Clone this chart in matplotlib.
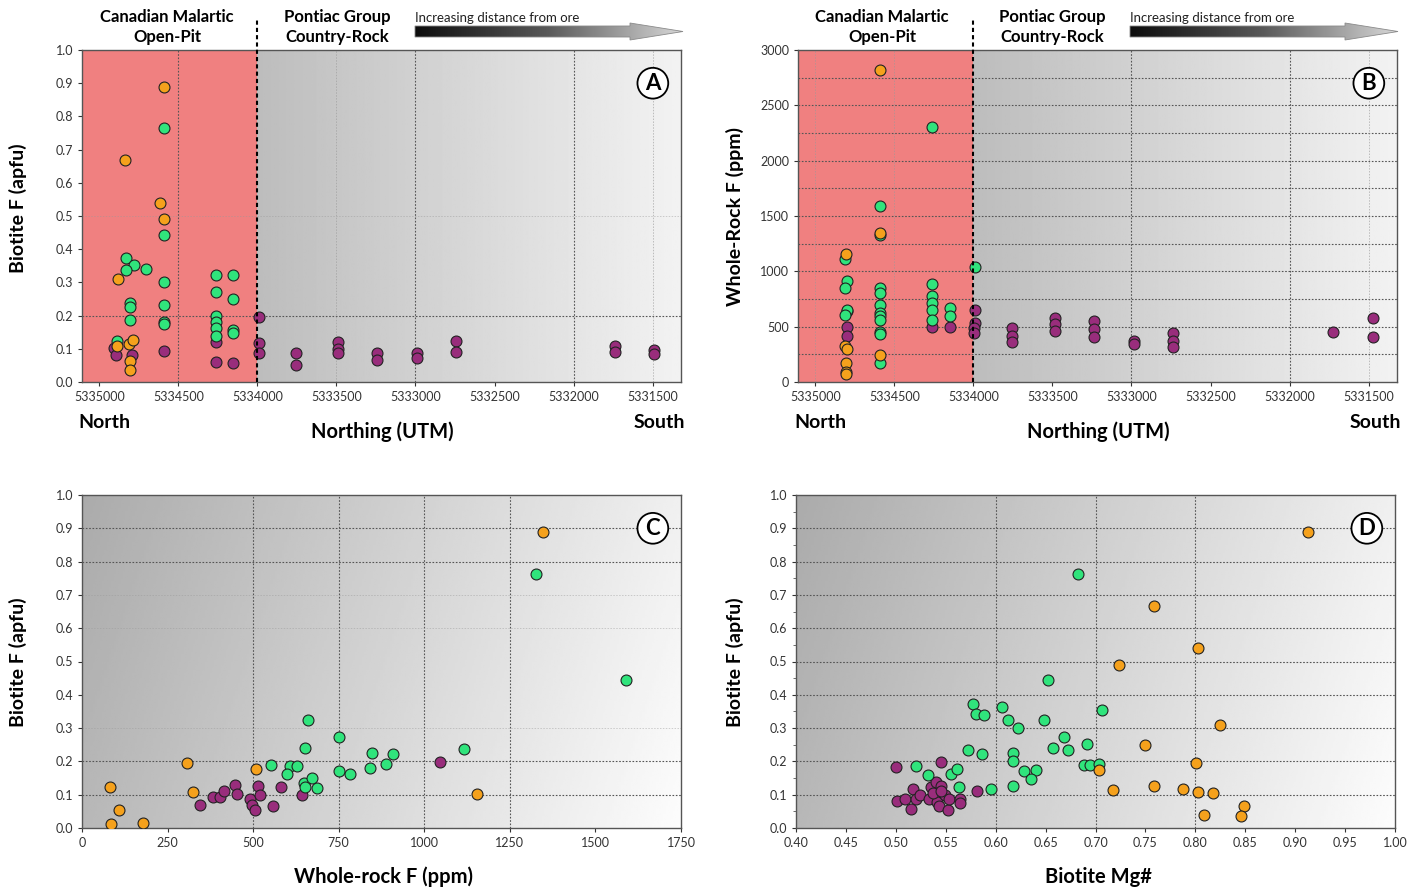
import numpy as np
import matplotlib
matplotlib.use("Agg")
from matplotlib import pyplot as plt
from matplotlib.patches import Polygon
from matplotlib.colors import LinearSegmentedColormap
from matplotlib.ticker import FuncFormatter, MultipleLocator

plt.rcParams['font.family'] = ['Lato', 'DejaVu Sans']

W, H = 1421, 888
ORANGE = '#F5A11C'
GREEN = '#30E47C'
PURPLE = '#992D7C'

# ---- biotite F vs northing (A) ----
orange_a_n = [5334840, 5334618, 5334589, 5334589, 5334882, 5334888, 5334815, 5334789, 5334808, 5334808]
orange_a_f = [0.669, 0.540, 0.889, 0.491, 0.309, 0.108, 0.114, 0.127, 0.064, 0.036]
green_a_n = [5334589, 5334589, 5334829, 5334783, 5334829, 5334704, 5334589, 5334261, 5334154, 5334261,
             5334154, 5334808, 5334808, 5334808, 5334589, 5334589, 5334589, 5334261, 5334261, 5334261,
             5334261, 5334154, 5334154, 5334888]
green_a_f = [0.764, 0.443, 0.372, 0.352, 0.337, 0.339, 0.300, 0.322, 0.322, 0.272,
             0.250, 0.237, 0.225, 0.187, 0.233, 0.182, 0.175, 0.199, 0.182, 0.162,
             0.139, 0.158, 0.149, 0.124]
purple_a_n = [5333992, 5334261, 5334261, 5334154, 5334589, 5333990, 5333992, 5334909, 5334893, 5334793,
              5333753, 5333753, 5333489, 5333489, 5333489, 5333242, 5333242, 5332989, 5332989, 5332742,
              5332742, 5331739, 5331739, 5331491, 5331491]
purple_a_f = [0.197, 0.121, 0.061, 0.056, 0.094, 0.117, 0.086, 0.101, 0.081, 0.081,
              0.088, 0.051, 0.121, 0.098, 0.086, 0.088, 0.066, 0.088, 0.071, 0.124,
              0.091, 0.108, 0.089, 0.096, 0.084]

# ---- whole-rock F vs northing (B) ----
orange_b_n = [5334590, 5334590, 5334804, 5334810, 5334800, 5334804, 5334804, 5334804, 5334590]
orange_b_f = [2819, 1349, 1157, 325, 295, 175, 93, 75, 244]
green_b_n = [5334263, 5334590, 5334590, 5334810, 5334800, 5334810, 5333990, 5334800, 5334810, 5334590,
             5334590, 5334590, 5334590, 5334590, 5334590, 5334590, 5334590, 5334590, 5334263, 5334263,
             5334263, 5334263, 5334263, 5334151, 5334151]
green_b_f = [2307, 1590, 1328, 1111, 915, 846, 1042, 650, 605, 846,
             801, 696, 621, 600, 560, 455, 430, 175, 885, 780,
             711, 650, 560, 672, 600]
purple_b_n = [5334800, 5334800, 5334800, 5334263, 5334151, 5333992, 5333992, 5333995, 5333995, 5333753,
              5333753, 5333753, 5333482, 5333482, 5333482, 5333237, 5333237, 5333237, 5332983, 5332983,
              5332739, 5332739, 5332739, 5331724, 5331471, 5331471]
purple_b_f = [645, 494, 416, 500, 500, 650, 536, 485, 445, 485,
              416, 359, 581, 521, 464, 554, 479, 404, 373, 343,
              446, 373, 319, 449, 581, 410]

# ---- biotite F vs whole-rock F (C) ----
orange_c_wr = [1347, 306, 509, 82, 324, 1153, 107, 84, 178]
orange_c_f = [0.890, 0.196, 0.176, 0.122, 0.108, 0.101, 0.053, 0.012, 0.015]
green_c_wr = [1325, 1589, 659, 752, 652, 847, 909, 1115, 553, 609,
              628, 600, 752, 783, 840, 889, 648, 672, 688, 652]
green_c_f = [0.764, 0.445, 0.325, 0.274, 0.241, 0.226, 0.223, 0.236, 0.190, 0.186,
             0.186, 0.161, 0.171, 0.163, 0.179, 0.191, 0.136, 0.151, 0.120, 0.123]
purple_c_wr = [1046, 346, 382, 402, 414, 446, 453, 491, 498, 506, 515, 521, 559, 580, 644]
purple_c_f = [0.198, 0.069, 0.093, 0.093, 0.111, 0.128, 0.101, 0.088, 0.068, 0.053,
              0.125, 0.098, 0.065, 0.122, 0.098]

# ---- biotite F vs biotite Mg# (D) ----
orange_d_mg = [0.913, 0.759, 0.803, 0.724, 0.825, 0.750, 0.801, 0.704, 0.718, 0.759,
               0.788, 0.803, 0.818, 0.809, 0.849, 0.846]
orange_d_f = [0.890, 0.667, 0.541, 0.490, 0.309, 0.248, 0.196, 0.174, 0.113, 0.127,
              0.118, 0.109, 0.105, 0.040, 0.067, 0.037]
green_d_mg = [0.682, 0.652, 0.577, 0.580, 0.588, 0.606, 0.612, 0.622, 0.648, 0.707,
              0.668, 0.657, 0.672, 0.691, 0.572, 0.586, 0.617, 0.617, 0.520, 0.532,
              0.555, 0.561, 0.628, 0.640, 0.635, 0.688, 0.694, 0.704, 0.563, 0.595, 0.617]
green_d_f = [0.764, 0.444, 0.373, 0.341, 0.338, 0.364, 0.323, 0.301, 0.323, 0.354,
             0.273, 0.241, 0.234, 0.252, 0.234, 0.223, 0.226, 0.201, 0.186, 0.160,
             0.163, 0.176, 0.171, 0.174, 0.147, 0.188, 0.188, 0.191, 0.122, 0.117, 0.125]
purple_d_mg = [0.500, 0.545, 0.581, 0.501, 0.509, 0.515, 0.517, 0.520, 0.524, 0.533,
               0.535, 0.540, 0.545, 0.541, 0.543, 0.549, 0.552, 0.553, 0.564, 0.564,
               0.537, 0.545]
purple_d_f = [0.184, 0.198, 0.110, 0.080, 0.088, 0.058, 0.118, 0.088, 0.100, 0.088,
              0.123, 0.137, 0.125, 0.078, 0.065, 0.100, 0.055, 0.088, 0.088, 0.075,
              0.105, 0.110]

NORTH_LIM = (5335110, 5331320)
PIT_EDGE = 5334000


def box(px_left, px_top, px_right, px_bottom):
    return [px_left / W, 1 - px_bottom / H, (px_right - px_left) / W, (px_bottom - px_top) / H]


def scatter_groups(ax, groups):
    for x, y, c in groups:
        ax.scatter(x, y, s=62, c=c, edgecolors='#222222', linewidths=0.8, zorder=5)


def grid_lines(ax, xs=(), ys=(), faint_xs=(), faint_ys=()):
    for v in xs:
        ax.axvline(v, color='#555555', ls=(0, (1.5, 1.5)), lw=0.8, zorder=2)
    for v in ys:
        ax.axhline(v, color='#555555', ls=(0, (1.5, 1.5)), lw=0.8, zorder=2)
    for v in faint_xs:
        ax.axvline(v, color='#999999', ls=(0, (1.5, 1.5)), lw=0.7, alpha=0.6, zorder=2)
    for v in faint_ys:
        ax.axhline(v, color='#999999', ls=(0, (1.5, 1.5)), lw=0.7, alpha=0.45, zorder=2)


def style_axes(ax):
    for s in ax.spines.values():
        s.set_color('#555555')
        s.set_linewidth(1.0)
    ax.tick_params(labelsize=9, colors='#333333', length=3, width=0.8)


def circle_label(ax, letter):
    ax.text(0.953, 0.90, letter, transform=ax.transAxes, ha='center', va='center',
            fontsize=16, fontweight='bold', zorder=10,
            bbox=dict(boxstyle='circle,pad=0.22', fc='white', ec='black', lw=1.3))


def northing_panel(ax, ymax, ytick_step, yfmt):
    ax.set_xlim(*NORTH_LIM)
    ax.set_ylim(0, ymax)
    ax.axvspan(NORTH_LIM[0], PIT_EDGE, color='#F08080', zorder=0)
    grad = 0.74 + 0.21 * np.linspace(0, 1, 256)[None, :]
    ax.imshow(grad, extent=[PIT_EDGE, NORTH_LIM[1], 0, ymax], aspect='auto',
              cmap='gray', vmin=0, vmax=1, zorder=0)
    ax.axvline(PIT_EDGE, ymin=0, ymax=1 + 30 / 332, color='black', ls=(0, (2, 1.5)),
               lw=1.5, clip_on=False, zorder=6)
    ax.set_xticks(np.arange(5335000, 5331000, -500))
    ax.xaxis.set_major_formatter(FuncFormatter(lambda v, p: f'{v:.0f}'))
    ax.yaxis.set_major_locator(MultipleLocator(ytick_step))
    ax.yaxis.set_major_formatter(FuncFormatter(yfmt))
    style_axes(ax)


def gray_panel(ax, xlim):
    ax.set_xlim(*xlim)
    ax.set_ylim(0, 1)
    gx = np.linspace(0, 1, 256)[None, :]
    gy = np.linspace(0, 1, 128)[:, None]
    grad = np.clip(0.67 + 0.27 * gx + 0.05 * gy, 0, 1)
    ax.imshow(grad, extent=[xlim[0], xlim[1], 0, 1], aspect='auto',
              cmap='gray', vmin=0, vmax=1, zorder=0)
    ax.yaxis.set_major_locator(MultipleLocator(0.1))
    ax.yaxis.set_major_formatter(FuncFormatter(lambda v, p: f'{v:.1f}'))
    style_axes(ax)


def gradient_arrow(fig, x0, x1, yc):
    ax = fig.add_axes(box(x0 - 2, yc - 12, x1 + 2, yc + 12))
    ax.set_xlim(x0 - 2, x1 + 2)
    ax.set_ylim(yc + 12, yc - 12)
    ax.axis('off')
    head = x1 - 53
    pts = [(x0, yc - 5.5), (head, yc - 5.5), (head, yc - 8.5), (x1, yc),
           (head, yc + 8.5), (head, yc + 5.5), (x0, yc + 5.5)]
    poly = Polygon(pts, closed=True, fc='none', ec='#8a8a8a', lw=0.6, zorder=3)
    ax.add_patch(poly)
    cmap = LinearSegmentedColormap.from_list('fade', ['#0d0d0d', '#5a5a5a', '#d8d8d8'])
    im = ax.imshow(np.linspace(0, 1, 256)[None, :], extent=[x0, x1, yc + 12, yc - 12],
                   cmap=cmap, aspect='auto', zorder=2)
    im.set_clip_path(poly)


def northing_header(fig, x_left, x_pit, x_pontiac, x_arrow):
    fig.text(x_pit / W, 1 - 27 / H, 'Canadian Malartic\nOpen-Pit', ha='center', va='center',
             fontsize=12, fontweight='bold', linespacing=1.25)
    fig.text(x_pontiac / W, 1 - 27 / H, 'Pontiac Group\nCountry-Rock', ha='center', va='center',
             fontsize=12, fontweight='bold', linespacing=1.25)
    fig.text(x_arrow / W, 1 - 18 / H, 'Increasing distance from ore', ha='left', va='center',
             fontsize=9.5, color='#222222')
    gradient_arrow(fig, x_arrow, x_arrow + 268, 31.5)
    fig.text((x_left + 22) / W, 1 - 422 / H, 'North', ha='center', va='center',
             fontsize=14, fontweight='bold')
    fig.text((x_left + 577) / W, 1 - 422 / H, 'South', ha='center', va='center',
             fontsize=14, fontweight='bold')
    fig.text((x_left + 300) / W, 1 - 432 / H, 'Northing (UTM)', ha='center', va='center',
             fontsize=14.5, fontweight='bold')


fig = plt.figure(figsize=(W / 100, H / 100), dpi=100)

# Panel A
ax_a = fig.add_axes(box(82, 50, 681, 382))
northing_panel(ax_a, 1.0, 0.1, lambda v, p: f'{v:.1f}')
grid_lines(ax_a, xs=[5334500, 5333000, 5332000], ys=[0.2], faint_xs=[5333500, 5331500], faint_ys=[0.5])
scatter_groups(ax_a, [(purple_a_n, purple_a_f, PURPLE), (green_a_n, green_a_f, GREEN),
                      (orange_a_n, orange_a_f, ORANGE)])
circle_label(ax_a, 'A')
fig.text(18 / W, 1 - 208 / H, 'Biotite F (apfu)', rotation=90, ha='center', va='center',
         fontsize=14, fontweight='bold')
northing_header(fig, 82, 167, 337, 415)

# Panel B
ax_b = fig.add_axes(box(798, 50, 1397, 382))
northing_panel(ax_b, 3000, 500, lambda v, p: f'{v:.0f}')
grid_lines(ax_b, xs=[5333000, 5332000], ys=np.arange(250, 3000, 250),
           faint_xs=[5335000, 5334500, 5331500])
scatter_groups(ax_b, [(purple_b_n, purple_b_f, PURPLE), (green_b_n, green_b_f, GREEN),
                      (orange_b_n, orange_b_f, ORANGE)])
circle_label(ax_b, 'B')
fig.text(735 / W, 1 - 216 / H, 'Whole-Rock F (ppm)', rotation=90, ha='center', va='center',
         fontsize=14, fontweight='bold')
northing_header(fig, 798, 882, 1052, 1130)

# Panel C
ax_c = fig.add_axes(box(82, 495, 681, 828))
gray_panel(ax_c, (0, 1750))
ax_c.set_xticks(np.arange(0, 1751, 250))
grid_lines(ax_c, xs=[500, 750, 1000, 1250], ys=[0.1, 0.2, 0.8, 0.9],
           faint_ys=[0.3, 0.6, 0.7])
scatter_groups(ax_c, [(purple_c_wr, purple_c_f, PURPLE), (green_c_wr, green_c_f, GREEN),
                      (orange_c_wr, orange_c_f, ORANGE)])
circle_label(ax_c, 'C')
fig.text(18 / W, 1 - 662 / H, 'Biotite F (apfu)', rotation=90, ha='center', va='center',
         fontsize=14, fontweight='bold')
fig.text(383 / W, 1 - 877 / H, 'Whole-rock F (ppm)', ha='center', va='center',
         fontsize=14.5, fontweight='bold')

# Panel D
ax_d = fig.add_axes(box(796, 495, 1395, 828))
gray_panel(ax_d, (0.40, 1.00))
ax_d.xaxis.set_major_locator(MultipleLocator(0.05))
ax_d.xaxis.set_major_formatter(FuncFormatter(lambda v, p: f'{v:.2f}'))
ax_d.yaxis.set_minor_locator(MultipleLocator(0.05))
ax_d.tick_params(which='minor', length=2, colors='#555555')
grid_lines(ax_d, xs=[0.6, 0.7, 0.8], ys=np.arange(0.1, 0.95, 0.1))
scatter_groups(ax_d, [(purple_d_mg, purple_d_f, PURPLE), (green_d_mg, green_d_f, GREEN),
                      (orange_d_mg, orange_d_f, ORANGE)])
circle_label(ax_d, 'D')
fig.text(735 / W, 1 - 662 / H, 'Biotite F (apfu)', rotation=90, ha='center', va='center',
         fontsize=14, fontweight='bold')
fig.text(1098 / W, 1 - 877 / H, 'Biotite Mg#', ha='center', va='center',
         fontsize=14.5, fontweight='bold')

fig.savefig('out.png', dpi=100, facecolor='white')
